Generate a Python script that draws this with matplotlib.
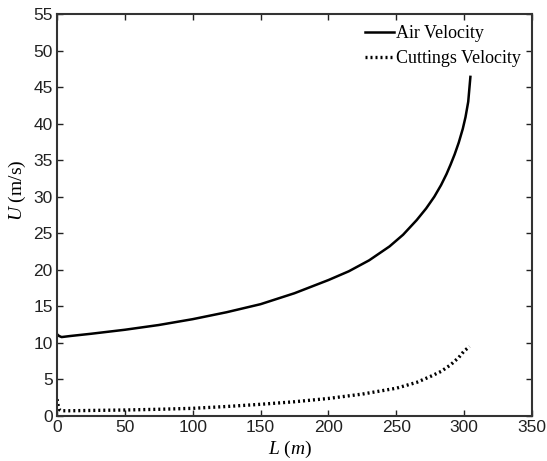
#!/usr/bin/env python
# -*- coding: utf-8 -*-
"""
Air and cuttings velocity along the well length.
"""
import matplotlib
matplotlib.use("Agg")
import matplotlib.pyplot as plt

# ~~~ Data ~~~~~~~~~~~~~~~~~~~~~~~~~~~~~~~~~~~~~~~~~~~~~~~~~~~~~~~~~~~~~~~~~~ #
L_air = [0, 1.5, 3.4, 10, 25, 50, 75, 100, 125, 150, 175, 200, 215, 230,
         245, 255, 265, 272, 278, 283, 287, 290, 293, 296, 299, 301, 303,
         304.6]
U_air = [11.2, 10.95, 10.8, 10.95, 11.25, 11.8, 12.45, 13.25, 14.2, 15.3,
         16.8, 18.6, 19.8, 21.3, 23.2, 24.8, 26.8, 28.4, 30.0, 31.6, 33.1,
         34.4, 35.8, 37.4, 39.3, 40.9, 43.0, 46.4]

L_cut = [0, 0.8, 1.6, 3, 10, 25, 50, 75, 100, 125, 150, 175, 200, 225,
         250, 265, 275, 283, 290, 296, 300, 304]
U_cut = [2.3, 1.5, 0.9, 0.72, 0.72, 0.76, 0.82, 0.92, 1.05, 1.3, 1.6,
         1.95, 2.4, 3.0, 3.8, 4.6, 5.4, 6.1, 7.0, 8.0, 8.9, 9.5]

plt.rcParams['font.family'] = ['Liberation Sans', 'DejaVu Sans']
plt.rcParams['mathtext.fontset'] = 'custom'
plt.rcParams['mathtext.it'] = 'Liberation Serif:italic'
plt.rcParams['mathtext.rm'] = 'Liberation Serif'

fig = plt.figure(figsize=(5.47, 4.61), dpi=100)
ax = fig.add_axes([0.1042, 0.0976, 0.8684, 0.872])

ax.plot(L_air, U_air, color='black', lw=1.8, label='Air Velocity')
ax.plot(L_cut, U_cut, color='black', lw=2.4, linestyle=(0, (0.6, 0.9)),
        label='Cuttings Velocity')

ax.set_xlim(0, 350)
ax.set_ylim(0, 55)
ax.set_xticks(range(0, 351, 50))
ax.set_yticks(range(0, 56, 5))
ax.tick_params(direction='in', top=True, right=True, length=4, width=1,
               labelsize=12.5, colors='#222222', pad=3)
for s in ax.spines.values():
    s.set_linewidth(1.5)
    s.set_color('#333333')

# Axis labels in Times style, symbol part in italics
serif = {'family': 'Liberation Serif', 'size': 14}
ax.set_xlabel(r'$\it{L}$ $\it{(m)}$', fontdict=serif)
ax.set_ylabel(r'$\it{U}$ (m/s)', fontdict=serif)
ax.xaxis.set_label_coords(0.49, -0.058)
ax.yaxis.set_label_coords(-0.062, 0.562)

leg = ax.legend(loc='upper right', frameon=False, handlelength=1.6,
                handletextpad=0.15, borderaxespad=0.2, labelspacing=0.45,
                prop={'family': 'Liberation Serif', 'size': 13})

fig.savefig('out.png', dpi=100)
